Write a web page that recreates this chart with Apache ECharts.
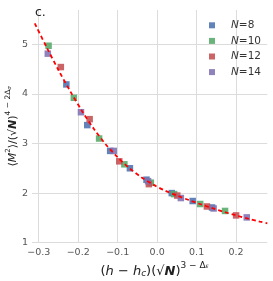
<!DOCTYPE html>
<html>
<head>
<meta charset="utf-8">
<script src="https://cdn.jsdelivr.net/npm/echarts@6/dist/echarts.min.js"></script>
<style>html,body{margin:0;padding:0;background:#fff;}#c{width:273px;height:281px;}</style>
</head>
<body>
<div id="c"></div>
<script>
// ---- data ----
const n8X  = [-0.230, -0.177, -0.119, -0.069, -0.027, 0.037, 0.090, 0.139];
const n8Y  = [4.19, 3.37, 2.85, 2.50, 2.27, 2.00, 1.84, 1.71];
const n10X = [-0.275, -0.211, -0.147, -0.083, -0.016, 0.043, 0.109, 0.172];
const n10Y = [4.97, 3.92, 3.10, 2.58, 2.21, 1.98, 1.78, 1.64];
const n12X = [-0.244, -0.171, -0.096, -0.021, 0.051, 0.126, 0.200];
const n12Y = [4.54, 3.49, 2.64, 2.18, 1.95, 1.73, 1.55];
const n14X = [-0.277, -0.193, -0.110, -0.023, 0.060, 0.143, 0.227];
const n14Y = [4.81, 3.63, 2.85, 2.24, 1.90, 1.69, 1.51];
const fitX = [-0.31, -0.28, -0.25, -0.22, -0.19, -0.16, -0.13, -0.10, -0.07, -0.04, -0.01, 0.02, 0.05, 0.08, 0.11, 0.14, 0.17, 0.20, 0.23, 0.26, 0.279];
const fitY = [5.42, 4.94, 4.48, 4.05, 3.65, 3.29, 2.98, 2.72, 2.50, 2.32, 2.17, 2.05, 1.95, 1.86, 1.775, 1.695, 1.62, 1.55, 1.485, 1.425, 1.39];
const seriesNames = ['N=8', 'N=10', 'N=12', 'N=14'];
const colors = ['#4C72B0', '#55A868', '#C44E52', '#8172B2'];

const zip = (xs, ys) => xs.map((x, i) => [x, ys[i]]);
const groups = [[n8X, n8Y], [n10X, n10Y], [n12X, n12Y], [n14X, n14Y]];

const FONT = 'DejaVu Sans';
const chart = echarts.init(document.getElementById('c'), null, {renderer: 'canvas'});

const scatterSeries = groups.map((g, k) => ({
  name: seriesNames[k],
  type: 'scatter',
  symbol: 'rect',
  symbolSize: 6.5,
  itemStyle: {color: colors[k], opacity: 0.88},
  data: zip(g[0], g[1]),
  z: 2
}));

const option = {
  animation: false,
  backgroundColor: '#fff',
  title: {
    text: 'c.', left: 35, top: 6, padding: 0,
    textStyle: {fontFamily: FONT, fontSize: 12.5, fontWeight: 'normal', color: '#222'}
  },
  legend: {
    orient: 'vertical', left: 204, top: 14,
    icon: 'rect', itemWidth: 6, itemHeight: 6, itemGap: 3,
    data: seriesNames,
    formatter: function (n) { return '{i|N}{t|' + n.slice(1) + '}'; },
    textStyle: {
      fontFamily: FONT, fontSize: 10.5, color: '#333', lineHeight: 12.6, padding: [0, 0, 0, 11],
      rich: {
        i: {fontFamily: FONT, fontStyle: 'italic', fontSize: 10.5, color: '#333'},
        t: {fontFamily: FONT, fontSize: 10.5, color: '#333'}
      }
    }
  },
  grid: {left: 32, right: 5.7, top: 10, bottom: 38.3, containLabel: false, outerBoundsMode: 'none'},
  xAxis: {
    type: 'value', min: -0.317, max: 0.279, splitNumber: 6,
    axisLine: {show: false}, axisTick: {show: false},
    splitLine: {show: true, showMinLine: false, showMaxLine: false, lineStyle: {color: '#dcdcdc', width: 1}},
    axisLabel: {
      showMinLabel: false, showMaxLabel: false, margin: 5,
      fontFamily: FONT, fontSize: 9.5, color: '#555',
      formatter: function (v) { return v.toFixed(1).replace('-', '\u2212'); }
    },
    name: '{t|(}{i|h}{t| \u2212 }{i|h}{sub|c}{t|)(\u221A}{bi|N}{t|)}{sup|3 \u2212 \u0394}{ss|\u03B5}',
    nameLocation: 'middle', nameGap: 17, nameMoveOverlap: false,
    nameTextStyle: {
      padding: [0, 0, 0, 10],
      rich: {
        t: {fontFamily: FONT, fontSize: 13, color: '#222', lineHeight: 18, verticalAlign: 'bottom'},
        i: {fontFamily: FONT, fontSize: 13, fontStyle: 'italic', color: '#222', lineHeight: 18, verticalAlign: 'bottom'},
        bi: {fontFamily: FONT, fontSize: 13, fontStyle: 'italic', fontWeight: 'bold', color: '#222', lineHeight: 18, verticalAlign: 'bottom'},
        sub: {fontFamily: FONT, fontSize: 9, fontStyle: 'italic', color: '#222', lineHeight: 9, verticalAlign: 'bottom'},
        sup: {fontFamily: FONT, fontSize: 9, color: '#222', lineHeight: 9, verticalAlign: 'top', padding: [1, 0, 0, 0]},
        ss: {fontFamily: FONT, fontSize: 6, fontStyle: 'italic', color: '#222', lineHeight: 9, verticalAlign: 'top', padding: [4, 0, 0, 0]}
      }
    }
  },
  yAxis: {
    type: 'value', min: 1, max: 5.69, interval: 1,
    axisLine: {show: false}, axisTick: {show: false},
    splitLine: {show: true, showMaxLine: false, lineStyle: {color: '#dcdcdc', width: 1}},
    axisLabel: {showMaxLabel: false, margin: 4, fontFamily: FONT, fontSize: 9.5, color: '#555'},
    name: '{t|\u27E8}{i|M}{s2|2}{t|\u27E9/(\u221A}{bi|N}{t|)}{sup|4 \u2212 2\u0394}{ss|\u03C3}',
    nameLocation: 'middle', nameGap: 13, nameRotate: 90, nameMoveOverlap: false,
    nameTextStyle: {
      rich: {
        t: {fontFamily: FONT, fontSize: 11, color: '#222', lineHeight: 15, verticalAlign: 'bottom'},
        i: {fontFamily: FONT, fontSize: 11, fontStyle: 'italic', color: '#222', lineHeight: 15, verticalAlign: 'bottom'},
        bi: {fontFamily: FONT, fontSize: 11, fontStyle: 'italic', fontWeight: 'bold', color: '#222', lineHeight: 15, verticalAlign: 'bottom'},
        s2: {fontFamily: FONT, fontSize: 7, color: '#222', lineHeight: 8, verticalAlign: 'top', padding: [1, 0, 0, 0]},
        sup: {fontFamily: FONT, fontSize: 7.5, color: '#222', lineHeight: 8, verticalAlign: 'top'},
        ss: {fontFamily: FONT, fontSize: 5.5, fontStyle: 'italic', color: '#222', lineHeight: 8, verticalAlign: 'top', padding: [3, 0, 0, 0]}
      }
    }
  },
  series: scatterSeries.concat([{
    name: 'fit', type: 'line', data: zip(fitX, fitY),
    showSymbol: false, symbol: 'none', smooth: 0.3,
    lineStyle: {color: '#ff0000', width: 1.8, type: [4, 3]},
    z: 5, silent: true
  }])
};
chart.setOption(option);
</script>
</body>
</html>
